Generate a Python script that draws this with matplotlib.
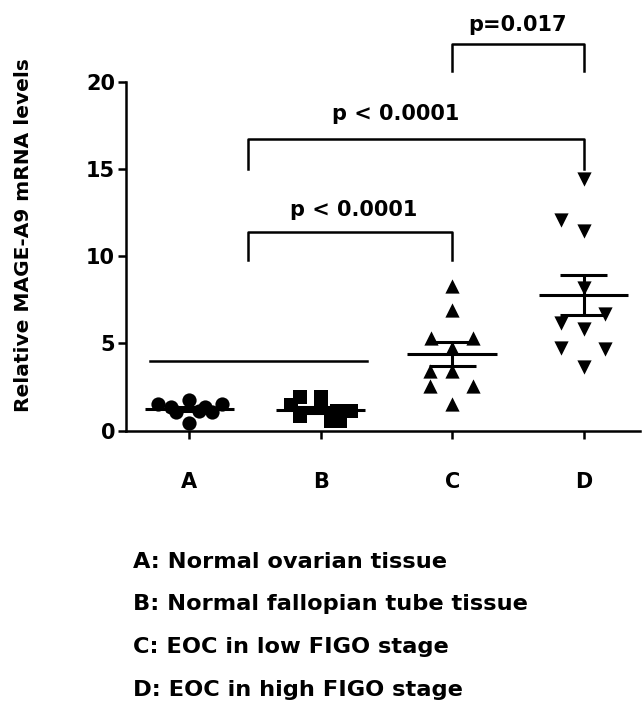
import numpy as np
import matplotlib.pyplot as plt

plt.rcParams['font.family'] = ['DejaVu Sans']
plt.rcParams['font.weight'] = 'bold'

groups = ['A', 'B', 'C', 'D']
legend_lines = ['A: Normal ovarian tissue',
                'B: Normal fallopian tube tissue',
                'C: EOC in low FIGO stage',
                'D: EOC in high FIGO stage']

# relative MAGE-A9 mRNA levels per sample
vals_a = [1.55, 1.35, 1.05, 1.75, 0.45, 1.10, 1.35, 1.05, 1.55]
vals_b = [1.45, 1.95, 0.85, 1.95, 1.30, 0.55, 1.15, 0.55, 1.15]
vals_c = [8.30, 6.90, 5.30, 5.30, 4.75, 3.40, 3.40, 2.55, 2.55, 1.55]
vals_d = [14.45, 12.10, 11.45, 8.20, 6.70, 6.15, 5.85, 4.72, 4.70, 3.67]

# horizontal scatter offsets (as drawn)
off_a = [-0.24, -0.14, -0.10, 0.0, 0.0, 0.07, 0.12, 0.17, 0.25]
off_b = [-0.23, -0.16, -0.16, 0.0, 0.0, 0.08, 0.12, 0.15, 0.23]
off_c = [0.0, 0.0, -0.16, 0.16, 0.0, -0.17, 0.0, -0.17, 0.16, 0.0]
off_d = [0.0, -0.17, 0.0, 0.0, 0.16, -0.17, 0.0, -0.17, 0.16, 0.0]

markers = ['o', 's', '^', 'v']

fig = plt.figure(figsize=(6.44, 7.06), dpi=100)
ax = fig.add_axes([0.196, 0.39, 0.798, 0.494])

all_vals = [vals_a, vals_b, vals_c, vals_d]
all_off = [off_a, off_b, off_c, off_d]
for i, (v, o, m) in enumerate(zip(all_vals, all_off, markers)):
    v = np.array(v)
    ax.scatter(i + np.array(o), v, marker=m, s=105, color='black', zorder=3,
               linewidths=0)
    mean = v.mean()
    sem = v.std(ddof=1) / np.sqrt(len(v))
    ax.hlines(mean, i - 0.34, i + 0.34, color='black', lw=2.2, zorder=4)
    ax.hlines([mean - sem, mean + sem], i - 0.18, i + 0.18, color='black',
              lw=2.2, zorder=4)
    ax.vlines(i, mean - sem, mean + sem, color='black', lw=2.2, zorder=4)

# significance brackets
def bracket(x1, x2, y, drop, label, tx, ty):
    ax.plot([x1, x1, x2, x2], [y - drop, y, y, y - drop], color='black',
            lw=1.8, clip_on=False)
    ax.text(tx, ty, label, ha='center', va='baseline',
            fontsize=15, fontweight='bold')

ax.plot([-0.3, 1.35], [3.97, 3.97], color='black', lw=1.8)
bracket(0.45, 2.0, 11.4, 1.6, 'p < 0.0001', 1.25, 12.3)
bracket(0.45, 3.0, 16.7, 1.7, 'p < 0.0001', 1.57, 17.8)
bracket(2.0, 3.0, 22.2, 1.6, 'p=0.017', 2.5, 22.9)

ax.set_xlim(-0.48, 3.43)
ax.set_ylim(0, 20)
ax.set_yticks([0, 5, 10, 15, 20])
ax.set_xticks(range(4))
ax.set_xticklabels(groups)
ax.spines['top'].set_visible(False)
ax.spines['right'].set_visible(False)
for s in ['left', 'bottom']:
    ax.spines[s].set_linewidth(1.8)
ax.tick_params(width=1.8, length=6, labelsize=15)
ax.tick_params(axis='x', pad=24)
ax.tick_params(axis='y', pad=2)
ax.set_ylabel('Relative MAGE-A9 mRNA levels', fontsize=14.5,
              fontweight='bold')
ax.yaxis.set_label_coords(-0.181, 0.56)

for k, line in enumerate(legend_lines):
    fig.text(0.207, 1 - (562 + 42.5 * k) / 706, line, fontsize=16.2,
             fontweight='bold', va='center', ha='left')

fig.savefig('out.png', dpi=100)
